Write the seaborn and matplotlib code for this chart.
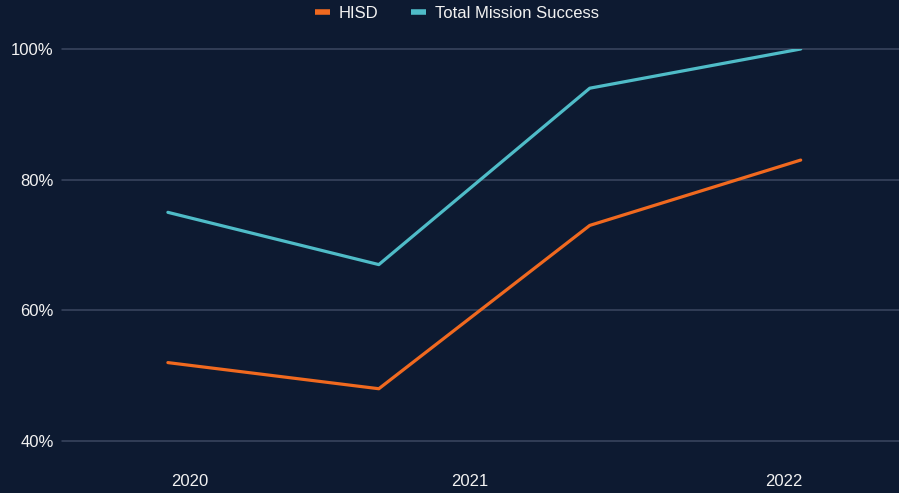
import matplotlib
matplotlib.use("Agg")
import matplotlib.pyplot as plt
import seaborn as sns
import pandas as pd
from matplotlib.lines import Line2D

# Data
periods = [0, 1, 2, 3]
hisd = [52, 48, 73, 83]
total_mission = [75, 67, 94, 100]
series_names = ["HISD", "Total Mission Success"]
year_labels = ["2020", "2021", "2022"]
year_tick_pos = [0.104, 1.43, 2.92]
y_ticks = [40, 60, 80, 100]

BG = "#0d1a31"
GRID = "#3b4761"
TEXT = "#f2f2f2"
colors = {"HISD": "#f0691f", "Total Mission Success": "#4fbcc8"}

df = pd.DataFrame({
    "x": periods * 2,
    "value": hisd + total_mission,
    "series": [series_names[0]] * len(periods) + [series_names[1]] * len(periods),
})

sns.set_theme(style="dark")
plt.rcParams["font.family"] = ["Liberation Sans", "DejaVu Sans"]

fig = plt.figure(figsize=(8.99, 4.93), dpi=100, facecolor=BG)
ax = fig.add_axes([62 / 899, 1 - 441 / 493, (899 - 62) / 899, (441 - 49) / 493])
ax.set_facecolor(BG)

sns.lineplot(data=df, x="x", y="value", hue="series", palette=colors,
             linewidth=2.3, ax=ax, legend=False, zorder=3)

ax.set_xlim(-0.502, 3.466)
ax.set_ylim(40, 100)
ax.set_yticks(y_ticks)
ax.set_yticklabels([f"{v}%" for v in y_ticks])
ax.set_xticks(year_tick_pos)
ax.set_xticklabels(year_labels)
ax.tick_params(axis="y", length=0, pad=6, labelsize=12, colors=TEXT)
ax.tick_params(axis="x", length=0, pad=24, labelsize=12, colors=TEXT)
ax.set_xlabel("")
ax.set_ylabel("")
ax.grid(False)
for v in y_ticks:
    ax.axhline(v, color=GRID, linewidth=1.1, zorder=1, clip_on=False)
for s in ax.spines.values():
    s.set_visible(False)

handles = [Line2D([0], [0], color=colors[n], linewidth=4, solid_capstyle="butt") for n in series_names]
leg = fig.legend(handles, series_names, loc="upper center", bbox_to_anchor=(0.508, 1.018),
                 ncol=2, frameon=False, fontsize=12, handlelength=0.9,
                 handletextpad=0.5, columnspacing=2.0)
for t in leg.get_texts():
    t.set_color(TEXT)

fig.savefig("out.png", dpi=100, facecolor=BG)
